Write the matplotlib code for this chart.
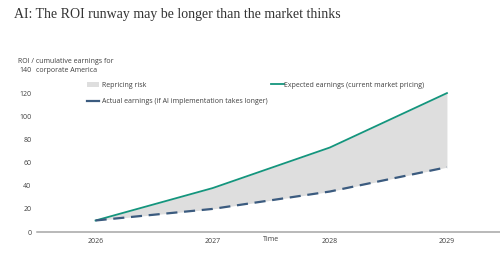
import matplotlib.pyplot as plt
from matplotlib.patches import Patch
from matplotlib.lines import Line2D

years = [2026, 2027, 2028, 2029]
expected = [10, 38, 73, 120]
actual = [10, 20, 35, 56]
yticks = [0, 20, 40, 60, 80, 100, 120, 140]

GREEN = '#14957d'
NAVY = '#3b5b7f'
FILL = '#dedede'
SANS = 'Open Sans'

fig = plt.figure(figsize=(5, 2.59), dpi=100)
ax = fig.add_axes([0.074, 0.104, 0.93, 0.626])

ax.fill_between(years, actual, expected, color=FILL, lw=0)
ax.plot(years, expected, color=GREEN, lw=1.3)
ax.plot(years, actual, color=NAVY, lw=1.6, ls=(0, (5, 3)))

ax.set_xlim(2025.5, 2029.47)
ax.set_ylim(0, 140)
ax.set_xticks(years)
ax.set_yticks(yticks)
ax.tick_params(length=0, labelsize=5, labelcolor='#404040', pad=4)
for lab in ax.get_xticklabels() + ax.get_yticklabels():
    lab.set_family(SANS)
for s in ['top', 'right', 'left']:
    ax.spines[s].set_visible(False)
ax.spines['bottom'].set_color('#a6a6a6')
ax.spines['bottom'].set_linewidth(1.1)

ax.text(2027.5, -3.2, 'Time', ha='center', va='top', fontsize=5,
        color='#404040', family=SANS, transform=ax.transData)

fig.text(0.036, 0.762, 'ROI / cumulative earnings for', fontsize=5,
         color='#404040', family=SANS, va='center')
fig.text(0.071, 0.728, 'corporate America', fontsize=5,
         color='#404040', family=SANS, va='center')

fig.text(0.028, 0.945, 'AI: The ROI runway may be longer than the market thinks',
         fontsize=10, family='Liberation Serif', color='#333333', va='center')

h1 = [Patch(facecolor=FILL, edgecolor='none'),
      Line2D([], [], color=NAVY, lw=1.6)]
leg1 = ax.legend(h1, ['Repricing risk', 'Actual earnings (if AI implementation takes longer)'],
                 loc='upper left', bbox_to_anchor=(0.094, 0.965), frameon=False,
                 prop={'family': SANS, 'size': 5}, handlelength=1.8, handletextpad=0.3,
                 labelspacing=1.35, labelcolor='#404040')
ax.add_artist(leg1)
h2 = [Line2D([], [], color=GREEN, lw=1.3)]
ax.legend(h2, ['Expected earnings (current market pricing)'], loc='upper left',
          bbox_to_anchor=(0.49, 0.965), frameon=False, prop={'family': SANS, 'size': 5},
          handlelength=1.8, handletextpad=0.1, labelcolor='#404040')

fig.savefig('out.png', dpi=100, facecolor='white')
